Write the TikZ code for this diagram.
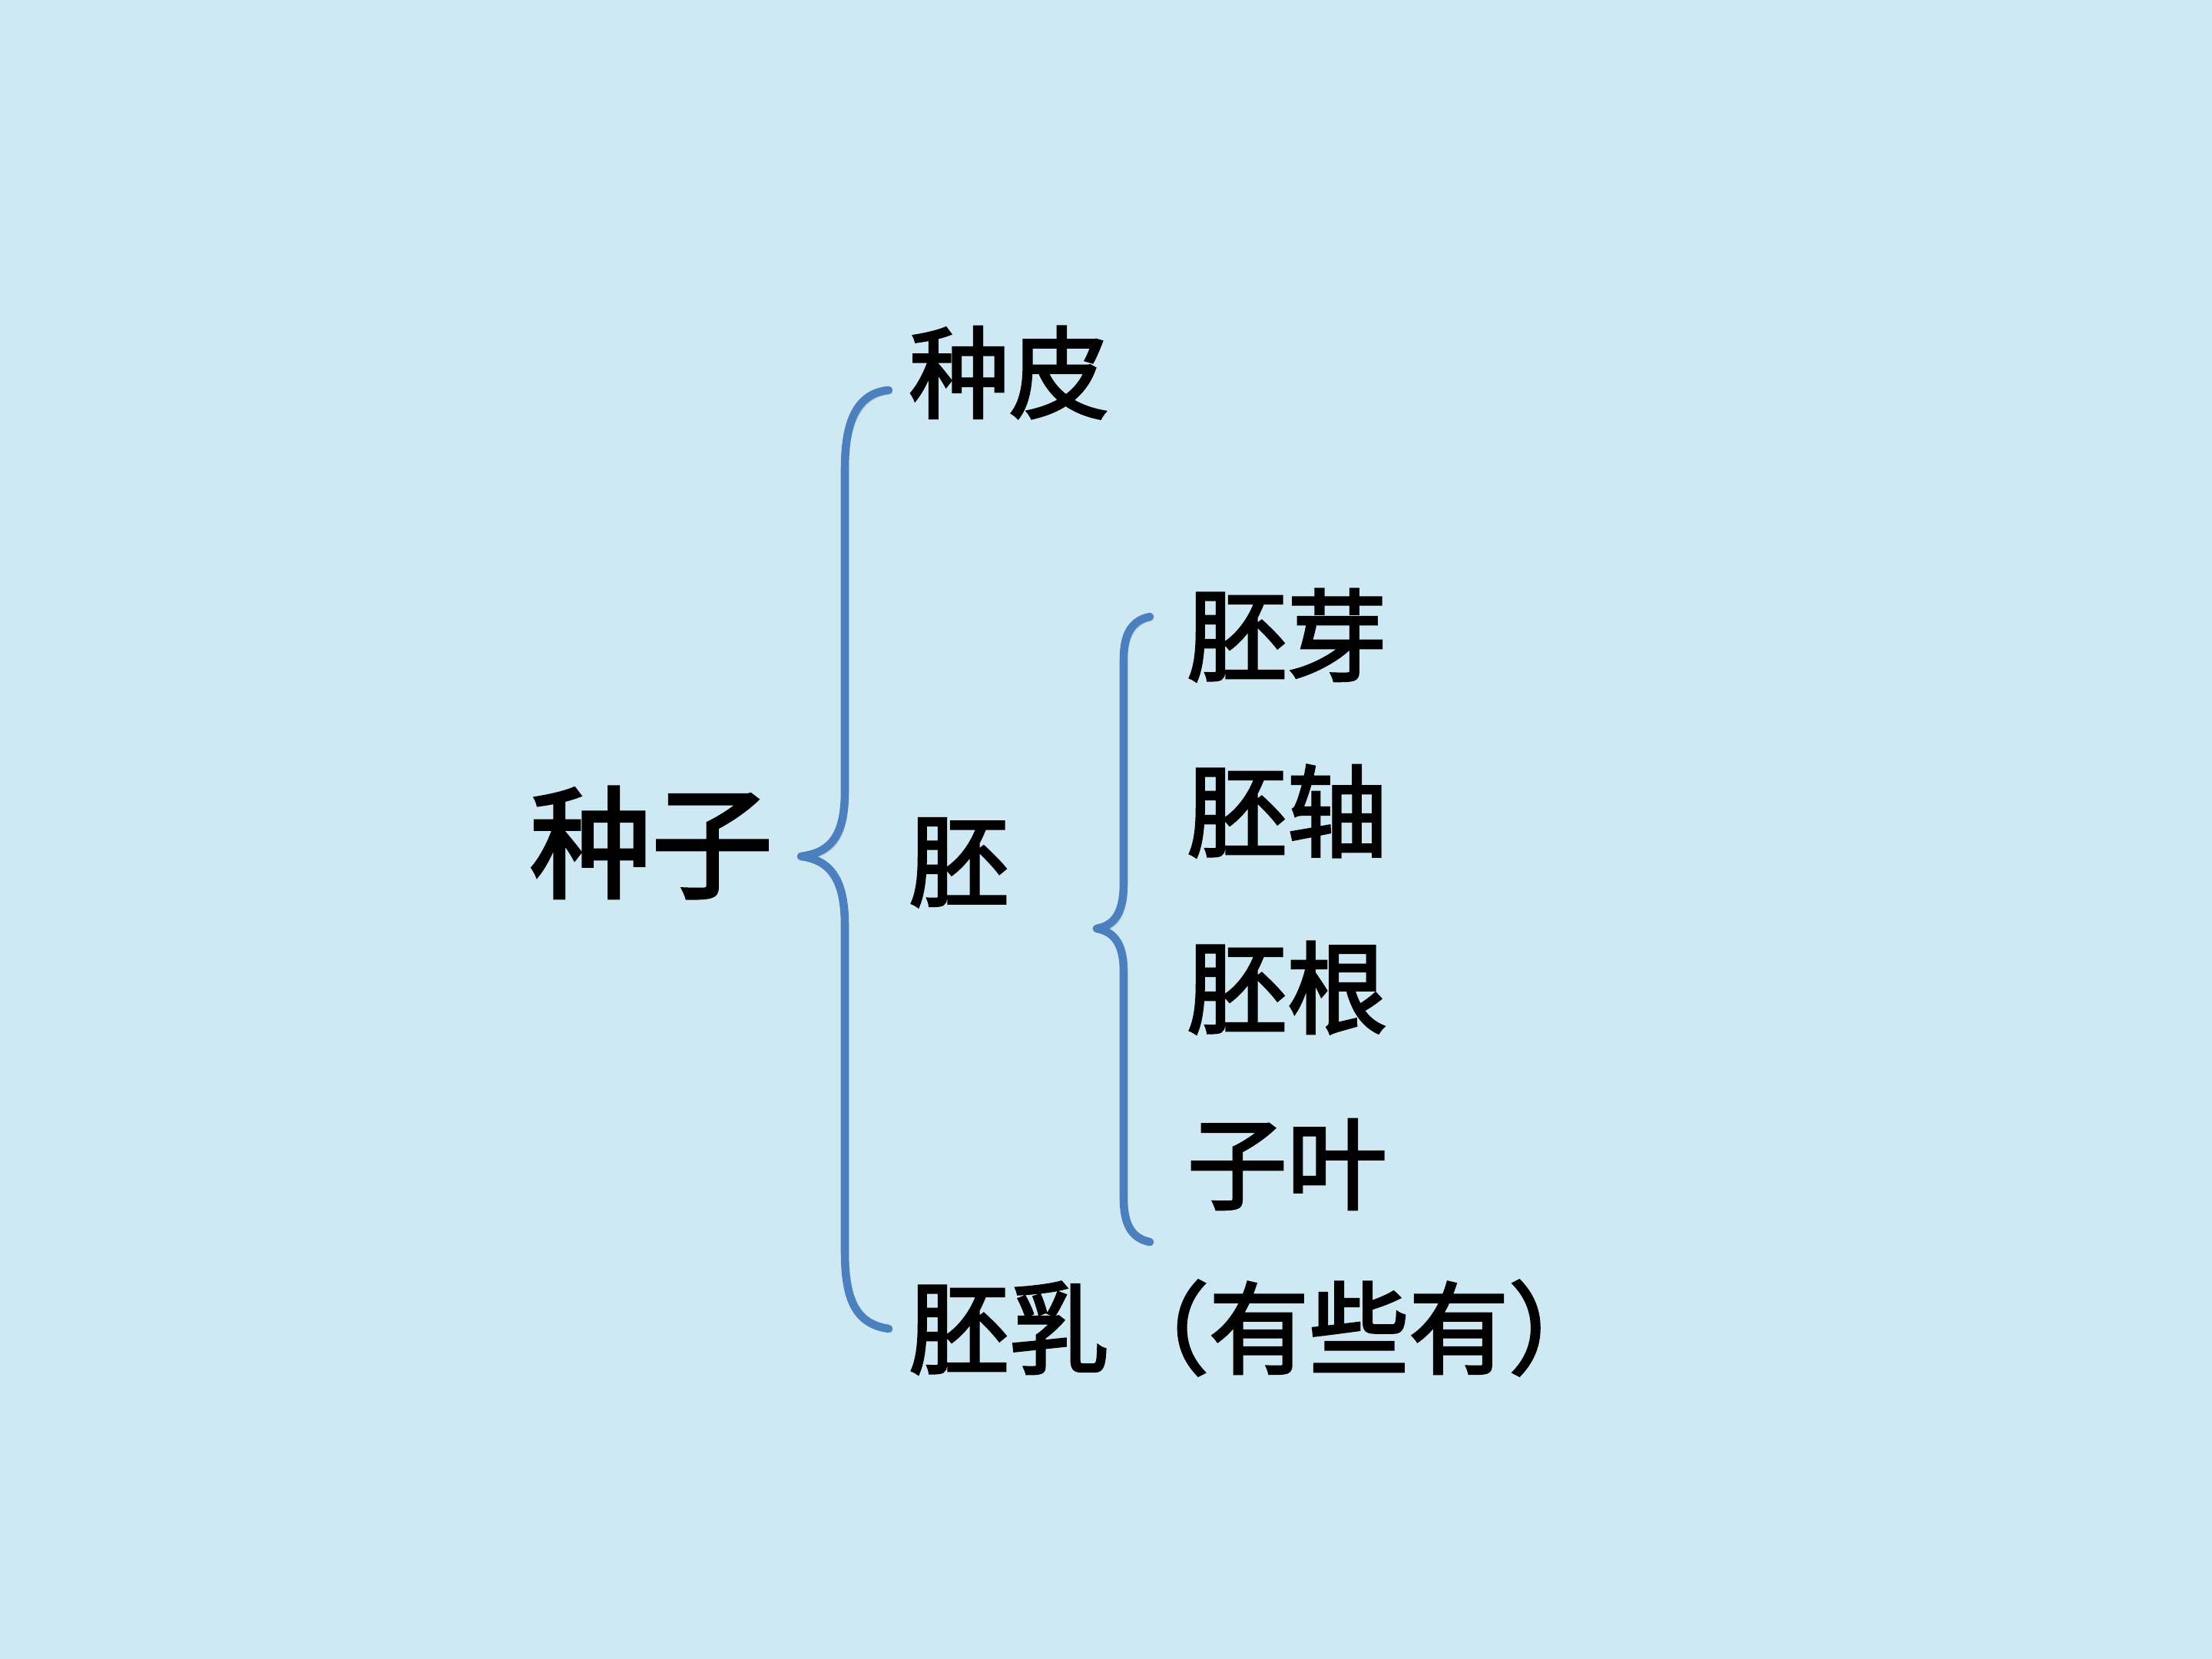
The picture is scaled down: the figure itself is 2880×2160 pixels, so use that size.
\documentclass[tikz,border=0pt]{standalone}
\usepackage{fontspec}
\setmainfont{Noto Sans CJK SC}[FakeBold=2.6]
\usetikzlibrary{positioning}
\definecolor{paper}{RGB}{207,233,244}
\definecolor{bracecol}{RGB}{76,127,190}
\tikzset{part/.style={anchor=west,inner sep=0pt,font=\fontsize{37}{40}\selectfont}}
\tikzset{bracket/.style={line width=3pt,draw=bracecol,line cap=round,line join=round,
    preaction={draw=black!70,opacity=.2,transform canvas={shift={(1.2pt,-1.2pt)}}}}}

\begin{document}
\begin{tikzpicture}[x=0.01cm,y=-0.01cm]
      \fill[paper] (0,0) rectangle (2880,2160);
      \useasboundingbox (0,0) rectangle (2880,2160);
      % left side
      \node[inner sep=0pt,font=\fontsize{45}{48}\selectfont] (seed) at (848,1097) {种子};
      % first level
      \node[part] (coat) at (1183,485) {种皮};
      \node[part] (embryo) at (1183,1123) {胚};
      \node[part] (endo) at (1183,1729) {胚乳（有些有）};
      % second level
      \node[part] (plumule) at (1545,827) {胚芽};
      \node[part] (hypo) at (1545,1056) {胚轴};
      \node[part] (radicle) at (1545,1286) {胚根};
      \node[part] (cotyl) at (1545,1516) {子叶};
      % brace ends
      \coordinate (b1) at (1157,508);
      \coordinate (t1) at (1043,1115);
      \coordinate (e1) at (1157,1730);
      \coordinate (b2) at (1497,803);
      \coordinate (t2) at (1428,1209);
      \coordinate (e2) at (1497,1617);
      \draw[bracket] (b1) .. controls (1115,512) and (1100,550) .. (1100,610)
        -- (1100,1030) .. controls (1100,1088) and (1082,1110) .. (t1)
        .. controls (1082,1120) and (1100,1146) .. (1100,1205)
        -- (1100,1630) .. controls (1100,1695) and (1116,1724) .. (e1);
      \draw[bracket] (b2) .. controls (1472,808) and (1463,828) .. (1463,858)
        -- (1463,1150) .. controls (1463,1190) and (1450,1205) .. (t2)
        .. controls (1450,1213) and (1463,1228) .. (1463,1265)
        -- (1463,1560) .. controls (1463,1592) and (1472,1612) .. (e2);
    \end{tikzpicture}
\end{document}
